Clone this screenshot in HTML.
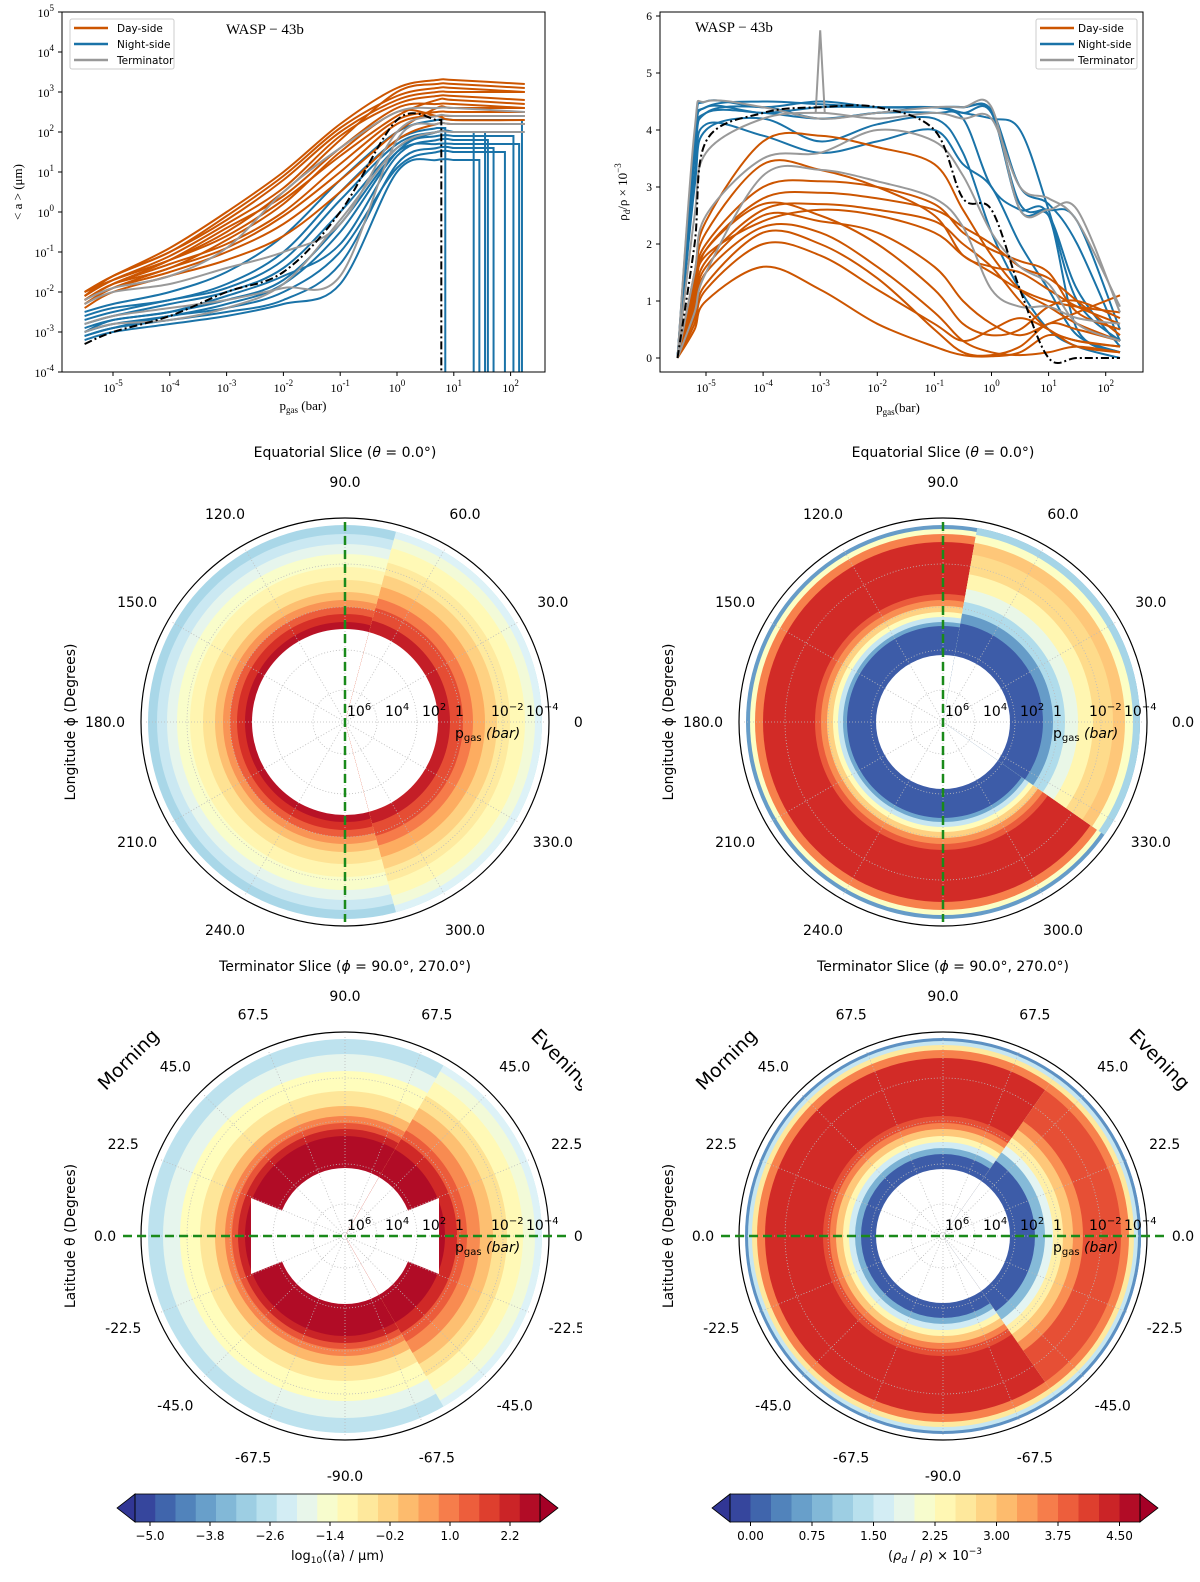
<!DOCTYPE html>
<html><head><meta charset="utf-8"><style>
body{margin:0;background:#fff}
svg text{font-family:"DejaVu Sans","Liberation Sans",sans-serif}
.serif{font-family:"Liberation Serif","DejaVu Serif",serif}
</style></head><body>
<svg id="fig" xmlns="http://www.w3.org/2000/svg" width="1200" height="1577" viewBox="0 0 1200 1577"></svg>
<script>
// ---------- DATA: top-left (log10 <a>) ----------
const aX = [-5.5,-5,-4,-3,-2,-1,0,0.7,1,2.25];
const aDay = [
 [-2.0,-1.6,-1.0,-0.2,0.8,2.0,2.8,3.0,3.0,3.0],
 [-2.1,-1.7,-1.2,-0.5,0.5,1.8,3.0,3.2,3.2,3.1],
 [-2.2,-1.8,-1.3,-0.8,0.0,1.2,2.3,2.5,2.5,2.5],
 [-2.3,-1.9,-1.5,-1.0,-0.3,0.8,2.0,2.6,2.6,2.6],
 [-2.0,-1.6,-0.9,0.0,1.0,2.2,3.1,3.3,3.3,3.2],
 [-2.2,-1.8,-1.4,-0.7,0.2,1.5,2.5,2.4,2.3,2.3],
 [-2.4,-2.0,-1.6,-1.2,-0.6,0.5,1.8,2.2,2.2,2.2],
 [-2.1,-1.7,-1.1,-0.3,0.6,1.9,2.7,2.9,2.9,2.8],
 [-2.0,-1.7,-1.2,-0.6,0.3,1.4,2.4,2.8,2.8,2.7],
 [-2.3,-1.9,-1.4,-0.9,-0.1,1.0,2.2,2.4,2.4,2.4],
 [-2.1,-1.6,-1.0,-0.1,0.9,2.1,2.9,3.1,3.1,3.0],
 [-2.2,-1.8,-1.2,-0.4,0.4,1.6,2.6,2.7,2.7,2.6]
];
const aNight = [
 [-3.0,-2.8,-2.6,-2.3,-1.8,-0.5,1.5,2.0,2.0,2.0],
 [-3.1,-2.9,-2.7,-2.5,-2.2,-1.3,1.2,1.6,1.6,1.6],
 [-2.6,-2.4,-2.2,-1.8,-1.0,0.5,1.8,2.1,2.1,2.1],
 [-3.2,-3.0,-2.8,-2.6,-2.3,-1.8,1.0,1.3,1.3,1.3],
 [-2.8,-2.6,-2.3,-2.0,-1.4,0.0,1.6,1.9,1.9,1.9],
 [-3.0,-2.7,-2.5,-2.1,-1.6,-0.8,1.4,1.8,1.8,1.8],
 [-2.5,-2.3,-2.0,-1.5,-0.6,0.8,2.0,2.3,2.3,2.3],
 [-3.1,-2.9,-2.6,-2.4,-2.0,-1.0,1.1,1.5,1.5,1.5],
 [-2.7,-2.5,-2.2,-1.9,-1.2,0.3,1.7,2.0,2.0,2.0],
 [-2.9,-2.7,-2.5,-2.2,-1.7,-0.3,1.5,1.7,1.7,1.7]
];
const aNightDrop = [1.55,1.7,0.85,1.45,2.05,1.6,2.2,1.9,1.35,2.15];
const aTerm = [
 [-2.3,-2.0,-1.8,-1.4,-1.0,-0.3,2.0,2.4,2.4,2.4],
 [-2.8,-2.6,-2.4,-2.2,-1.9,-1.6,1.8,2.2,2.2,2.2],
 [-2.2,-1.9,-1.6,-0.9,0.5,1.6,2.5,2.6,2.6,2.5],
 [-3.0,-2.8,-2.7,-2.4,-1.8,-0.2,1.6,2.0,2.0,2.0]
];
const aMean = [-3.3,-3.0,-2.6,-2.0,-1.5,0.0,2.3,2.3,2.3,2.3];
const aMeanDrop = 0.78;

// ---------- DATA: top-right (rho_d/rho x1e-3) ----------
const rX = [-5.5,-5.2,-5,-4,-3,-2,-1,-0.5,0,0.5,1,1.5,2.25];
const rDay = [
 [0,1.2,1.8,2.4,2.6,2.5,2.2,1.8,1.5,1.2,1.0,0.9,0.8],
 [0,0.8,1.5,2.3,2.2,1.6,0.8,0.3,0.1,0.05,0.1,0.2,0.1],
 [0,1.0,1.7,2.6,2.7,2.6,2.4,2.0,1.6,1.0,0.5,0.3,0.2],
 [0,0.6,1.2,2.0,1.8,1.2,0.6,0.3,0.5,0.7,0.5,0.2,0.1],
 [0,1.4,2.2,3.4,3.3,3.0,2.5,1.8,1.6,1.5,1.2,0.9,0.6],
 [0,1.1,1.9,2.8,2.9,2.8,2.6,2.3,2.0,1.6,1.4,1.0,0.4],
 [0,0.5,1.0,1.6,1.2,0.6,0.2,0.05,0.03,0.1,0.4,0.3,0.2],
 [0,1.5,2.4,3.8,3.9,3.7,3.4,2.6,1.8,1.2,0.9,0.6,0.3],
 [0,0.9,1.6,2.5,2.4,2.2,1.6,1.0,0.6,0.4,0.6,0.8,1.1],
 [0,1.3,2.0,3.0,3.1,3.0,2.7,2.2,1.9,1.7,1.5,0.8,0.5],
 [0,0.7,1.3,2.2,2.0,1.4,0.5,0.1,0.05,0.2,0.6,0.5,0.3],
 [0,1.2,1.9,2.7,2.5,2.0,1.2,0.6,0.4,0.5,0.9,1.0,0.7]
];
const rNight = [
 [0,3.8,4.4,4.5,4.45,4.4,4.4,4.3,4.3,2.6,2.5,1.2,0.2],
 [0,3.5,4.3,4.4,4.2,4.3,4.3,4.2,3.0,2.6,2.5,0.5,0.1],
 [0,3.9,4.5,4.4,4.5,4.4,4.4,4.4,4.3,2.7,2.6,2.4,0.5],
 [0,3.0,4.0,4.2,3.8,4.1,4.2,3.6,2.2,1.2,0.5,0.2,0],
 [0,3.6,4.3,4.3,4.2,4.3,4.4,4.3,4.2,4.0,2.6,1.0,0.3],
 [0,3.2,4.1,3.9,3.6,3.8,4.0,3.4,3.0,2.0,1.2,0.4,0.1],
 [0,3.7,4.4,4.3,4.4,4.4,4.4,4.4,4.35,3.0,2.7,2.0,0.3]
];
const rTerm = [
 [0,4.0,4.5,4.4,4.2,4.3,4.4,4.4,4.4,2.6,2.6,2.6,0.8],
 [0,1.5,2.5,3.5,3.6,4.0,3.8,3.2,2.2,1.6,1.3,0.6,0.3],
 [0,0.8,1.5,3.2,3.3,3.1,2.8,2.3,1.2,0.9,0.9,0.7,0.6],
 [0,2.5,3.6,4.2,4.3,4.2,4.3,4.2,4.2,3.0,2.8,2.4,0.9]
];
const rMean = [0,2.0,3.8,4.3,4.4,4.4,4.0,2.8,2.6,1.2,0,0,0];
const rPeakX = -3, rPeakY = 5.75;

// ---------- DATA: polar radial profiles (night/back side, day/front sector) ----------
const eqAEdgesL = [93,100,108,115,122,130,142,155,168,178,188,197];
const eqAValsL  = [2.5,2.0,1.4,0.7,0.1,-0.5,-1.0,-1.4,-1.9,-2.4,-2.9];
const eqAEdgesR = [93,105,118,128,140,152,165,180,190,197];
const eqAValsR  = [2.3,1.6,1.0,0.4,-0.2,-0.7,-1.1,-1.6,-2.1];
const eqREdgesL = [67,96,100,105,110,116,122,128,180,188,193,197];
const eqRValsL  = [0.05,0.7,1.5,2.3,2.9,3.5,3.9,4.3,3.6,2.2,0.6];
const eqREdgesR = [67,100,110,122,135,150,170,182,190,197];
const eqRValsR  = [0.05,0.6,1.3,1.9,2.4,2.8,3.0,2.2,1.2,0.3];
const tAEdgesL = [68,100,107,113,120,130,145,165,182,197];
const tAValsL  = [2.6,2.2,1.5,0.9,0.2,-0.6,-1.2,-1.9,-2.6];
const tAEdgesR = [68,100,112,122,135,148,162,178,190,197];
const tAValsR  = [2.6,2.1,1.4,0.8,0.1,-0.5,-1.1,-1.6,-2.1];
const tREdgesL = [67,82,88,94,100,107,113,120,178,186,191,195,198];
const tRValsL  = [0.05,0.8,1.6,2.4,3.0,3.6,4.0,4.3,3.6,2.6,1.5,0.5];
const tREdgesR = [67,92,102,110,120,130,140,178,186,191,195,198];
const tRValsR  = [0.05,0.9,1.8,2.5,3.0,3.5,4.0,3.6,2.6,1.5,0.5];
const cbALevels = [-5.0,-3.8,-2.6,-1.4,-0.2,1.0,2.2];
const cbRLevels = [0.00,0.75,1.50,2.25,3.00,3.75,4.50];

const svg = document.getElementById('fig');
const NS = 'http://www.w3.org/2000/svg';
function mk(tag, attrs, parent){const e=document.createElementNS(NS,tag);for(const k in attrs)e.setAttribute(k,attrs[k]);(parent||svg).appendChild(e);return e;}
function txt(x,y,s,attrs,parent){const t=mk('text',Object.assign({x:x,y:y},attrs||{}),parent);t.innerHTML=s;return t;}

const stops=['#313695','#4575b4','#74add1','#abd9e9','#e0f3f8','#ffffbf','#fee090','#fdae61','#f46d43','#d73027','#a50026'];
function hx(c){return [1,3,5].map(i=>parseInt(c.substr(i,2),16));}
function cmap(t){t=Math.max(0,Math.min(1,t));const f=t*10,i=Math.min(9,Math.floor(f)),u=f-i;const a=hx(stops[i]),b=hx(stops[i+1]);return 'rgb('+a.map((v,k)=>Math.round(v+(b[k]-v)*u)).join(',')+')';}
function smooth(pts){let d='M'+pts[0][0].toFixed(1)+' '+pts[0][1].toFixed(1);
 for(let i=0;i<pts.length-1;i++){const p0=pts[Math.max(0,i-1)],p1=pts[i],p2=pts[i+1],p3=pts[Math.min(pts.length-1,i+2)];
  const c1=[p1[0]+(p2[0]-p0[0])/6,p1[1]+(p2[1]-p0[1])/6],c2=[p2[0]-(p3[0]-p1[0])/6,p2[1]-(p3[1]-p1[1])/6];
  d+='C'+c1[0].toFixed(1)+' '+c1[1].toFixed(1)+' '+c2[0].toFixed(1)+' '+c2[1].toFixed(1)+' '+p2[0].toFixed(1)+' '+p2[1].toFixed(1);}
 return d;}

// ---------- TOP-LEFT ----------
(function(){
 const g=mk('g',{});
 
 
 const L=62,R=545,T=12,B=372;
 const xs=v=>113+(v+5)*56.8, ys=v=>B-(v+4)*40;
 const cp=mk('clipPath',{id:'c1'},g);mk('rect',{x:L,y:T,width:R-L,height:B-T},cp);
 const pg=mk('g',{'clip-path':'url(#c1)'},g);
 function line(vals,col,drop,dash,w){
  let pts=[];
  for(let i=0;i<aX.length;i++){if(drop!==undefined&&aX[i]>drop)break;pts.push([xs(aX[i]),ys(vals[i])]);}
  let d=smooth(pts);
  if(drop!==undefined){const ly=pts[pts.length-1][1];d+='L'+xs(drop)+' '+ly+'L'+xs(drop)+' '+(B+5);}
  return mk('path',{d:d,fill:'none',stroke:col,'stroke-width':w||2,'stroke-dasharray':dash||'none'},pg);
 }
 aNight.forEach((v,i)=>{const p=line(v,'#1a73a8',aNightDrop[i]);});
 aDay.forEach(v=>{const p=line(v,'#cc5500');});
 aTerm.forEach(v=>{const p=line(v,'#999999');});
 const m=line(aMean,'#000',aMeanDrop,'8,3,2,3',2);
 mk('rect',{x:L,y:T,width:R-L,height:B-T,fill:'none',stroke:'#000','stroke-width':1},g);
 for(let e=-4;e<=5;e++){const y=ys(e);mk('line',{x1:L-4,x2:L,y1:y,y2:y,stroke:'#000'},g);
  const t=txt(L-8,y+5,'10<tspan dy="-6" font-size="9">'+e+'</tspan>',{'text-anchor':'end','font-size':'12',class:'serif'},g);}
 for(let e=-5;e<=2;e++){const x=xs(e);mk('line',{x1:x,x2:x,y1:B,y2:B+4,stroke:'#000'},g);
  const t=txt(x,B+20,'10<tspan dy="-6" font-size="9">'+e+'</tspan>',{'text-anchor':'middle','font-size':'12',class:'serif'},g);}
 const xl=txt(303,410,'p<tspan font-size="9" dy="3">gas</tspan><tspan dy="-3"> (bar)</tspan>',{'text-anchor':'middle','font-size':'13',class:'serif'},g);
 const yl=txt(0,0,'&lt; a &gt; (μm)',{transform:'translate(22,192) rotate(-90)','text-anchor':'middle','font-size':'13',class:'serif'},g);
 const ti=txt(226,34,'WASP − 43b',{'font-size':'15',class:'serif'},g);
 const lg=mk('g',{},g);
 mk('rect',{x:70,y:19,width:104,height:50,fill:'#fff',stroke:'#ccc',rx:2},lg);
 [['Day-side','#cc5500'],['Night-side','#1a73a8'],['Terminator','#999']].forEach((a,i)=>{const y=28+i*16;mk('line',{x1:74,x2:108,y1:y,y2:y,stroke:a[1],'stroke-width':2.5},lg);txt(117,y+4,a[0],{'font-size':'10.5'},lg);});
})();

// ---------- TOP-RIGHT ----------
(function(){
 const g=mk('g',{});
 
 
 const L=660,R=1143,T=12,B=372;
 const xs=v=>706+(v+5)*57.1, ys=v=>358-v*57;
 const cp=mk('clipPath',{id:'c2'},g);mk('rect',{x:L,y:T,width:R-L,height:B-T},cp);
 const pg=mk('g',{'clip-path':'url(#c2)'},g);
 function line(vals,col,dash){const pts=vals.map((v,i)=>[xs(rX[i]),ys(v)]);return mk('path',{d:smooth(pts),fill:'none',stroke:col,'stroke-width':2,'stroke-dasharray':dash||'none'},pg);}
 rNight.forEach(v=>{const p=line(v,'#1a73a8');});
 rDay.forEach(v=>{const p=line(v,'#cc5500');});
 rTerm.forEach(v=>{const p=line(v,'#999');});
 const pk=mk('path',{d:'M'+xs(rPeakX-0.08)+' '+ys(4.3)+'L'+xs(rPeakX)+' '+ys(rPeakY)+'L'+xs(rPeakX+0.08)+' '+ys(4.3),fill:'none',stroke:'#999','stroke-width':2},pg);
 
 const m=line(rMean,'#000','8,3,2,3');
 mk('rect',{x:L,y:T,width:R-L,height:B-T,fill:'none',stroke:'#000'},g);
 for(let v=0;v<=6;v++){const y=ys(v);mk('line',{x1:L-4,x2:L,y1:y,y2:y,stroke:'#000'},g);const t=txt(L-8,y+4,String(v),{'text-anchor':'end','font-size':'11.5',class:'serif'},g);}
 for(let e=-5;e<=2;e++){const x=xs(e);mk('line',{x1:x,x2:x,y1:B,y2:B+4,stroke:'#000'},g);const t=txt(x,B+20,'10<tspan dy="-6" font-size="9">'+e+'</tspan>',{'text-anchor':'middle','font-size':'12',class:'serif'},g);}
 const xl=txt(898,412,'p<tspan font-size="9" dy="3">gas</tspan><tspan dy="-3">(bar)</tspan>',{'text-anchor':'middle','font-size':'13',class:'serif'},g);
 const yl=txt(0,0,'ρ<tspan font-size="9" dy="3">d</tspan><tspan dy="-3">/ρ × 10</tspan><tspan font-size="9" dy="-6">−3</tspan>',{transform:'translate(627,192) rotate(-90)','text-anchor':'middle','font-size':'13',class:'serif'},g);
 const ti=txt(695,32,'WASP − 43b',{'font-size':'15',class:'serif'},g);
 const lg=mk('g',{},g);
 mk('rect',{x:1036,y:19,width:101,height:50,fill:'#fff',stroke:'#ccc',rx:2},lg);
 [['Day-side','#cc5500'],['Night-side','#1a73a8'],['Terminator','#999']].forEach((a,i)=>{const y=28+i*16;mk('line',{x1:1040,x2:1074,y1:y,y2:y,stroke:a[1],'stroke-width':2.5},lg);txt(1078,y+4,a[0],{'font-size':'10.5'},lg);});
})();

// ---------- POLAR PANELS ----------
let clipN=0;
function bands(g,cx,cy,edges,vals,vmin,vmax,sector){
 let hg=g;
 if(sector){
  const id='sec'+(clipN++);const cp=mk('clipPath',{id:id},g);
  const a0=sector[0]*Math.PI/180,a1=sector[1]*Math.PI/180,r=230;
  mk('path',{d:`M${cx} ${cy}L${cx+r*Math.cos(a0)} ${cy-r*Math.sin(a0)}A${r} ${r} 0 0 0 ${cx+r*Math.cos(a1)} ${cy-r*Math.sin(a1)}Z`},cp);
  hg=mk('g',{'clip-path':'url(#'+id+')'},g);
 }
 for(let i=vals.length-1;i>=0;i--){
  const c=mk('circle',{cx:cx,cy:cy,r:edges[i+1],fill:cmap((vals[i]-vmin)/(vmax-vmin))},hg);
  
  
 }
 mk('circle',{cx:cx,cy:cy,r:edges[0],fill:'#fff'},hg);
}
function polar(cx,cy,pl,pr,vmin,vmax,opts){
 const g=mk('g',{});
 
 
 if(opts.clip){const cp=mk('clipPath',{id:opts.name+'-clip'},g);mk('rect',{x:0,y:cy-320,width:opts.clip,height:640},cp);g.setAttribute('clip-path','url(#'+opts.name+'-clip)');}
 const R=200;
 bands(g,cx,cy,pl[0],pl[1],vmin,vmax,null);
 bands(g,cx,cy,pr[0],pr[1],vmin,vmax,opts.sector);
 if(opts.wedge){const w=opts.wedge;mk('path',{d:`M${cx} ${cy}L${cx-w} ${cy-38}L${cx-w} ${cy+38}Z M${cx} ${cy}L${cx+w} ${cy-38}L${cx+w} ${cy+38}Z`,fill:'#fff'},g);}
 [32,72,115,158].forEach(r=>mk('circle',{cx:cx,cy:cy,r:r,fill:'none',stroke:'#bbb','stroke-width':0.8,'stroke-dasharray':'1,2'},g));
 opts.angles.forEach(a=>{const t=a*Math.PI/180;mk('line',{x1:cx,y1:cy,x2:cx+R*Math.cos(t),y2:cy-R*Math.sin(t),stroke:'#bbb','stroke-width':0.8,'stroke-dasharray':'1,2'},g);});
 mk('circle',{cx:cx,cy:cy,r:R+3,fill:'none',stroke:'#fff','stroke-width':4},g);
 mk('circle',{cx:cx,cy:cy,r:R+4,fill:'none',stroke:'#000','stroke-width':1.2},g);
 const dl=opts.vertical?mk('line',{x1:cx,x2:cx,y1:cy-R,y2:cy+R},g):mk('line',{x1:cx-222,x2:cx+222,y1:cy,y2:cy},g);
 dl.setAttribute('stroke','#1a8a1a');dl.setAttribute('stroke-width','2.5');dl.setAttribute('stroke-dasharray','9,5');
 
 opts.labels.forEach(l=>{const t=l[0]*Math.PI/180;const x=cx+240*Math.cos(t),y=cy-240*Math.sin(t)+5;const e=txt(x,y,l[1],{'text-anchor':'middle','font-size':'14'},g);});
 const rl=[['10<tspan dy="-6" font-size="10">6</tspan>',2],['10<tspan dy="-6" font-size="10">4</tspan>',40],['10<tspan dy="-6" font-size="10">2</tspan>',77],['1',110],['10<tspan dy="-6" font-size="10">−2</tspan>',146],['10<tspan dy="-6" font-size="10">−4</tspan>',181]];
 rl.forEach(r=>{const e=txt(cx+r[1],cy-6,r[0],{'font-size':'14'},g);});
 const pl2=txt(cx+110,cy+16,'p<tspan font-size="10" dy="3">gas</tspan><tspan dy="-3"> </tspan><tspan font-style="italic">(bar)</tspan>',{'font-size':'14'},g);
 const ti=txt(cx,cy-265,opts.title,{'text-anchor':'middle','font-size':'14'},g);
 const yl=txt(0,0,opts.ylabel,{transform:`translate(${cx-270},${cy}) rotate(-90)`,'text-anchor':'middle','font-size':'14'},g);
 if(opts.morning){
  const m=txt(0,0,'Morning',{transform:`translate(${cx-212},${cy-172}) rotate(-45)`,'text-anchor':'middle','font-size':'19'},g);
  const e=txt(0,0,'Evening',{transform:`translate(${cx+212},${cy-172}) rotate(45)`,'text-anchor':'middle','font-size':'19'},g);
 }
}
const eqLabels=[[90,'90.0'],[60,'60.0'],[30,'30.0'],[0,'0.0'],[-30,'330.0'],[-60,'300.0'],[-120,'240.0'],[-150,'210.0'],[180,'180.0'],[150,'150.0'],[120,'120.0']];
const tLabels=[[90,'90.0'],[67.5,'67.5'],[45,'45.0'],[22.5,'22.5'],[0,'0.0'],[-22.5,'-22.5'],[-45,'-45.0'],[-67.5,'-67.5'],[-90,'-90.0'],[112.5,'67.5'],[135,'45.0'],[157.5,'22.5'],[180,'0.0'],[202.5,'-22.5'],[225,'-45.0'],[247.5,'-67.5']];
const eqAng=[0,30,60,90,120,150,180,210,240,270,300,330];
const tAng=[0,22.5,45,67.5,90,112.5,135,157.5,180,202.5,225,247.5,270,292.5,315,337.5];
const eqT='Equatorial Slice (<tspan font-style="italic">θ</tspan> = 0.0°)';
const tT='Terminator Slice (<tspan font-style="italic">ϕ</tspan> = 90.0°, 270.0°)';
polar(345,722,[eqAEdgesL,eqAValsL],[eqAEdgesR,eqAValsR],-5.3,2.8,{name:'equatorial-size-polar',angles:eqAng,labels:eqLabels,vertical:true,title:eqT,ylabel:'Longitude ϕ (Degrees)',clip:582,sector:[-75,75]});
polar(943,722,[eqREdgesL,eqRValsL],[eqREdgesR,eqRValsR],-0.25,4.75,{name:'equatorial-density-polar',angles:eqAng,labels:eqLabels,vertical:true,title:eqT,ylabel:'Longitude ϕ (Degrees)',sector:[-35,80]});
polar(345,1236,[tAEdgesL,tAValsL],[tAEdgesR,tAValsR],-5.3,2.8,{name:'terminator-size-polar',angles:tAng,labels:tLabels,vertical:false,title:tT,ylabel:'Latitude θ (Degrees)',clip:582,morning:true,wedge:94,sector:[-60,60]});
polar(943,1236,[tREdgesL,tRValsL],[tREdgesR,tRValsR],-0.25,4.75,{name:'terminator-density-polar',angles:tAng,labels:tLabels,vertical:false,title:tT,ylabel:'Latitude θ (Degrees)',morning:true,sector:[-55,55]});

// ---------- COLORBARS ----------
function cbar(x0,x1,levels,vmin,vmax,label,fmt,name){
 const g=mk('g',{});
 
 
 const y=1494,h=28,n=20,w=(x1-x0)/n;
 for(let i=0;i<n;i++)mk('rect',{x:x0+i*w,y:y,width:w+0.5,height:h,fill:cmap((i+0.5)/n)},g);
 mk('path',{d:`M${x0} ${y}L${x0-18} ${y+h/2}L${x0} ${y+h}Z`,fill:cmap(0),stroke:'#000','stroke-width':0.8},g);
 mk('path',{d:`M${x1} ${y}L${x1+18} ${y+h/2}L${x1} ${y+h}Z`,fill:cmap(1),stroke:'#000','stroke-width':0.8},g);
 mk('rect',{x:x0,y:y,width:x1-x0,height:h,fill:'none',stroke:'#000','stroke-width':0.8},g);
 levels.forEach(v=>{const x=x0+(v-vmin)/(vmax-vmin)*(x1-x0);mk('line',{x1:x,x2:x,y1:y+h,y2:y+h+4,stroke:'#000'},g);const t=txt(x,y+h+18,fmt(v),{'text-anchor':'middle','font-size':'12'},g);});
 const l=txt((x0+x1)/2,y+h+38,label,{'text-anchor':'middle','font-size':'13'},g);
}
cbar(135,540,cbALevels,-5.3,2.8,'log<tspan font-size="9" dy="3">10</tspan><tspan dy="-3">(⟨a⟩ / μm)</tspan>',v=>(v<0?'−':'')+Math.abs(v).toFixed(1),'size-colorbar');
cbar(730,1140,cbRLevels,-0.25,4.75,'(<tspan font-style="italic">ρ</tspan><tspan font-size="9" dy="3" font-style="italic">d</tspan><tspan dy="-3"> / </tspan><tspan font-style="italic">ρ</tspan>) × 10<tspan font-size="9" dy="-6">−3</tspan>',v=>v.toFixed(2),'density-colorbar');
</script>
</body></html>
